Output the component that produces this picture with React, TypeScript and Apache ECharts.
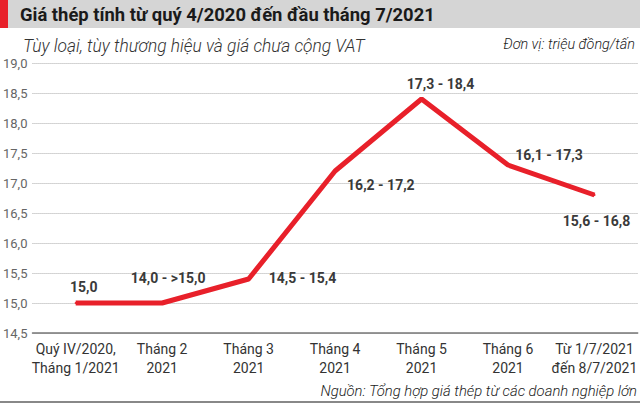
import React, { useEffect, useRef } from "react";
import * as echarts from "echarts";

const categories = [
  "Quý IV/2020,\nTháng 1/2021",
  "Tháng 2\n2021",
  "Tháng 3\n2021",
  "Tháng 4\n2021",
  "Tháng 5\n2021",
  "Tháng 6\n2021",
  "Từ 1/7/2021\nđến 8/7/2021",
];
const values = [15.0, 15.0, 15.4, 17.2, 18.4, 17.3, 16.8];
const pointLabels = [
  "15,0",
  "14,0 - >15,0",
  "14,5 - 15,4",
  "16,2 - 17,2",
  "17,3 - 18,4",
  "16,1 - 17,3",
  "15,6 - 16,8",
];
const yMin = 14.5;
const yMax = 19;
const yStep = 0.5;

const title = "Giá thép tính từ quý 4/2020 đến đầu tháng 7/2021";
const subtitle = "Tùy loại, tùy thương hiệu và giá chưa cộng VAT";
const unit = "Đơn vị: triệu đồng/tấn";
const source = "Nguồn: Tổng hợp giá thép từ các doanh nghiệp lớn";

const labelPlacement: any[] = [
  { position: "top", offset: [8, -3] },
  { position: "top", offset: [6, -12] },
  { position: "right", distance: 19, offset: [0, -1] },
  { position: "right", distance: 11, offset: [0, 14] },
  { position: "top", offset: [19, -2] },
  { position: "top", offset: [41, 3] },
  { position: "bottom", offset: [2, 13] },
];

export default function App() {
  const ref = useRef<HTMLDivElement>(null);
  useEffect(() => {
    document.body.style.margin = "0";
    const chart = echarts.init(ref.current!, undefined, { renderer: "svg" });
    const font = "Roboto, 'Noto Sans', sans-serif";
    chart.setOption({
      animation: false,
      backgroundColor: "#ffffff",
      textStyle: { fontFamily: font },
      grid: { left: 30, right: 0, top: 63, bottom: 71, containLabel: false },
      xAxis: {
        type: "category",
        data: categories,
        boundaryGap: true,
        axisLine: { show: true, lineStyle: { color: "#777", width: 1.5 } },
        axisTick: { show: false },
        axisLabel: {
          color: "#333",
          fontSize: 14,
          lineHeight: 19,
          margin: 6,
          interval: 0,
        },
        splitLine: { show: false },
      },
      yAxis: {
        type: "value",
        min: yMin,
        max: yMax,
        interval: yStep,
        axisLine: { show: false },
        axisTick: { show: false },
        axisLabel: {
          color: "#666",
          fontSize: 13,
          margin: 5,
          formatter: (v: number) => v.toFixed(1).replace(".", ","),
        },
        splitLine: {
          show: true,
          lineStyle: { color: "#aaa", type: "dotted", width: 1 },
        },
      },
      series: [
        {
          type: "line",
          data: values.map((v, i) => ({
            value: v,
            label: {
              show: true,
              formatter: pointLabels[i],
              ...labelPlacement[i],
            },
          })),
          symbol: "circle",
          symbolSize: 2,
          showSymbol: true,
          itemStyle: { color: "#e8202a" },
          lineStyle: { color: "#e8202a", width: 5 },
          label: {
            show: true,
            color: "#3a3a3a",
            fontSize: 14,
            fontWeight: "bold",
            fontFamily: font,
          },
          z: 3,
        },
      ],
      graphic: [
        {
          type: "rect",
          shape: { x: 0, y: 0, width: 640, height: 28 },
          style: { fill: "#d5d5d5" },
        },
        {
          type: "rect",
          shape: { x: 0, y: 0, width: 8, height: 28 },
          style: { fill: "#e8202a" },
        },
        {
          type: "text",
          x: 20,
          y: 15,
          scaleX: 0.97,
          style: {
            text: title,
            fill: "#1a1a1a",
            fontSize: 19,
            fontWeight: "bold",
            fontFamily: font,
            textVerticalAlign: "middle",
          },
        },
        {
          type: "text",
          x: 23,
          y: 46,
          scaleX: 0.965,
          style: {
            text: subtitle,
            fill: "#333",
            fontSize: 18,
            fontStyle: "italic",
            fontWeight: 300,
            fontFamily: font,
            textVerticalAlign: "middle",
          },
        },
        {
          type: "text",
          x: 635,
          y: 44,
          scaleX: 0.96,
          style: {
            text: unit,
            fill: "#222",
            fontSize: 15,
            fontStyle: "italic",
            fontWeight: 300,
            fontFamily: font,
            textAlign: "right",
            textVerticalAlign: "middle",
          },
        },
        {
          type: "text",
          x: 637,
          y: 391,
          scaleX: 0.99,
          style: {
            text: source,
            fill: "#222",
            fontSize: 15,
            fontStyle: "italic",
            fontWeight: 300,
            fontFamily: font,
            textAlign: "right",
            textVerticalAlign: "middle",
          },
        },
        {
          type: "rect",
          shape: { x: 0, y: 401, width: 640, height: 2 },
          style: { fill: "#888" },
        },
      ],
    });
    return () => chart.dispose();
  }, []);
  return <div ref={ref} style={{ width: 640, height: 404 }} />;
}
